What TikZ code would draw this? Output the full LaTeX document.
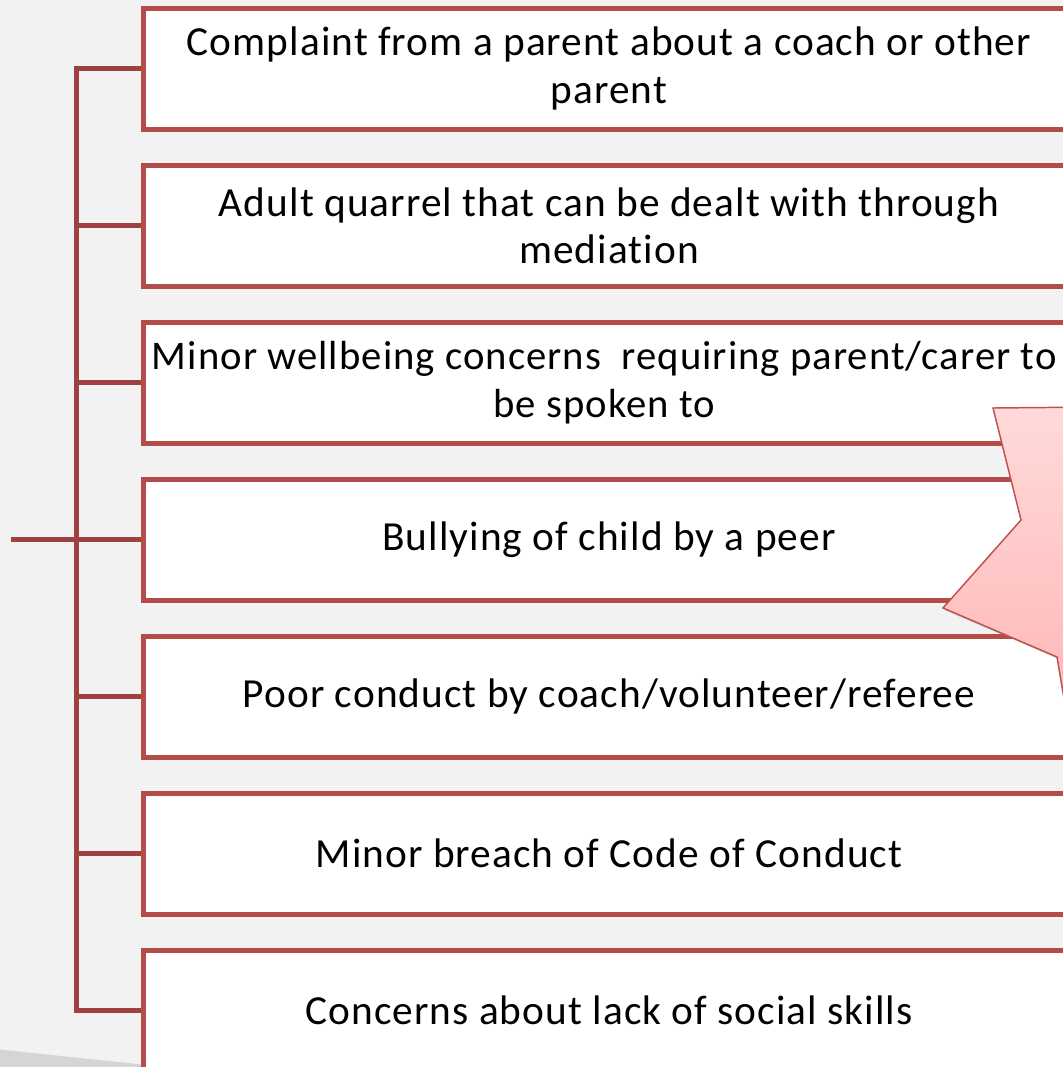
\documentclass[tikz,border=0pt]{standalone}
\usepackage{fontspec}
\setmainfont{Carlito}[LetterSpace=2.6,Ligatures=NoCommon]
\usetikzlibrary{shadows}
\definecolor{bgcol}{RGB}{242,242,242}
\definecolor{wedgecol}{RGB}{212,213,215}
\definecolor{boxred}{RGB}{180,77,74}
\definecolor{connred}{RGB}{158,65,64}
\definecolor{calloutedge}{RGB}{192,80,77}
\definecolor{calloutTop}{RGB}{255,218,218}
\definecolor{calloutBot}{RGB}{255,176,176}
\tikzset{
  itembox/.style={draw=boxred, line width=3.75pt, fill=white, minimum width=699pt, minimum height=90.75pt, align=center, inner sep=0pt, font=\fontsize{31}{35.5}\selectfont},
  conn/.style={draw=connred, line width=3.75pt},
  calloutshape/.style={draw=calloutedge, line width=1.1pt, top color=calloutTop, bottom color=calloutBot, drop shadow={opacity=0.25, shadow xshift=2pt, shadow yshift=-2pt}}
}
\begin{document}
\begin{tikzpicture}[x=0.75pt,y=-0.75pt]
\useasboundingbox (0,0) rectangle (1063,1067);
\begin{scope}
\clip (0,0) rectangle (1063,1067);
\fill[bgcol] (-5,-5) rectangle (1070,1072);
\fill[wedgecol] (-5,1049) -- (175,1068) -- (-5,1072) -- cycle;
% trunk coordinates
\coordinate (t1) at (76,68.5);
\coordinate (t2) at (76,225.5);
\coordinate (t3) at (76,382.5);
\coordinate (t4) at (76,539.5);
\coordinate (t5) at (76,696.5);
\coordinate (t6) at (76,853.5);
\coordinate (t7) at (76,1010.5);
\coordinate (stub) at (11,539.5);
% boxes
\node[itembox] (b1) at (609,68.5) {Complaint from a parent about a coach or other\\parent};
\node[itembox] (b2) at (609,225.5) {Adult quarrel that can be dealt with through\\mediation};
\node[itembox, font=\fontsize{30.5}{35.5}\selectfont] (b3) at (609,382.5) {Minor wellbeing concerns\ \ requiring parent/carer to\hspace*{7pt}\\be spoken to\hspace*{7pt}};
\node[itembox] (b4) at (609,539.5) {Bullying of child by a peer};
\node[itembox] (b5) at (609,696.5) {Poor conduct by coach/volunteer/referee};
\node[itembox] (b6) at (609,853.5) {Minor breach of Code of Conduct};
\node[itembox] (b7) at (609,1010.5) {Concerns about lack of social skills};
% connectors
\draw[conn, line cap=rect] (t1) -- (t7);
\draw[conn] (stub) -- (t4);
\foreach \i in {1,...,7} { \draw[conn] (t\i) -- (b\i.west); }
% callout
\path[calloutshape] (993,408) -- (1021,520) -- (943,608) -- (1057,657) -- (1076,770) -- (1100,770) -- (1100,407) -- cycle;
\end{scope}
\end{tikzpicture}
\end{document}
